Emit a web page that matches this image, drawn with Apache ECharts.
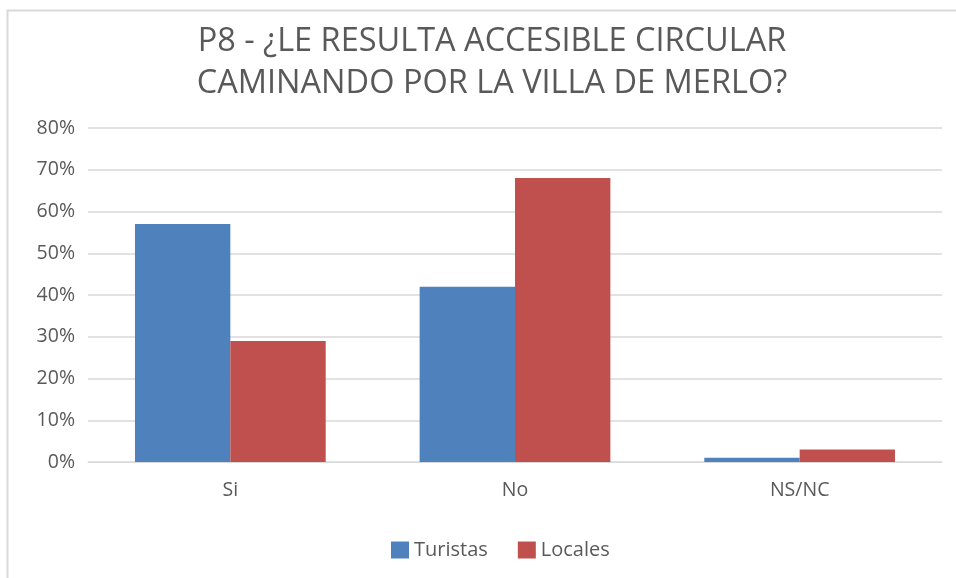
<!DOCTYPE html>
<html>
<head>
<meta charset="utf-8">
<script src="https://cdn.jsdelivr.net/npm/echarts@6/dist/echarts.min.js"></script>
<style>
  html, body { margin: 0; padding: 0; background: #fff; }
  #chart { width: 956px; height: 578px; }
</style>
</head>
<body>
<div id="chart"></div>
<script>
// Survey answers, share of respondents (%)
const categories = ['Si', 'No', 'NS/NC'];
const turistas = [57, 42, 1];
const locales = [29, 68, 3];
const seriesNames = ['Turistas', 'Locales'];
const titleLines = ['P8 - ¿LE RESULTA ACCESIBLE CIRCULAR', 'CAMINANDO POR LA VILLA DE MERLO?'];

const FONT = '"Open Sans", "Noto Sans", sans-serif';
const TEXT = '#595959';

const chart = echarts.init(document.getElementById('chart'), null, { renderer: 'canvas' });

chart.setOption({
  backgroundColor: '#fff',
  animation: false,
  title: {
    text: titleLines.join('\n'),
    left: 487,
    textAlign: 'center',
    top: 16,
    textStyle: {
      fontFamily: FONT,
      fontSize: 32.5,
      fontWeight: 'normal',
      color: TEXT,
      lineHeight: 42
    }
  },
  graphic: [{
    type: 'rect',
    shape: { x: 7.5, y: 10.5, width: 1000, height: 1000 },
    style: { fill: 'none', stroke: '#d9d9d9', lineWidth: 2 },
    silent: true
  }],
  legend: {
    data: seriesNames,
    top: 535,
    left: 386,
    itemWidth: 18,
    itemHeight: 17,
    itemGap: 30,
    icon: 'rect',
    textStyle: { fontFamily: FONT, fontSize: 20, color: TEXT }
  },
  grid: { left: 88, right: 14, top: 128, bottom: 116 },
  xAxis: {
    type: 'category',
    data: categories,
    axisLine: { show: true, lineStyle: { color: '#d9d9d9', width: 1 } },
    axisTick: { show: false },
    axisLabel: { fontFamily: FONT, fontSize: 19.5, color: TEXT, margin: 18 }
  },
  yAxis: {
    type: 'value',
    min: 0,
    max: 80,
    interval: 10,
    axisLine: { show: false },
    axisTick: { show: false },
    axisLabel: {
      fontFamily: FONT, fontSize: 19.5, color: TEXT, margin: 13,
      formatter: v => v + '%'
    },
    splitLine: { lineStyle: { color: '#d9d9d9', width: 1.5 } }
  },
  series: [
    {
      name: seriesNames[0],
      type: 'bar',
      data: turistas,
      barGap: '0%',
      barCategoryGap: '33%',
      itemStyle: { color: '#4F81BD' }
    },
    {
      name: seriesNames[1],
      type: 'bar',
      data: locales,
      itemStyle: { color: '#C0504D' }
    }
  ]
});
</script>
</body>
</html>
